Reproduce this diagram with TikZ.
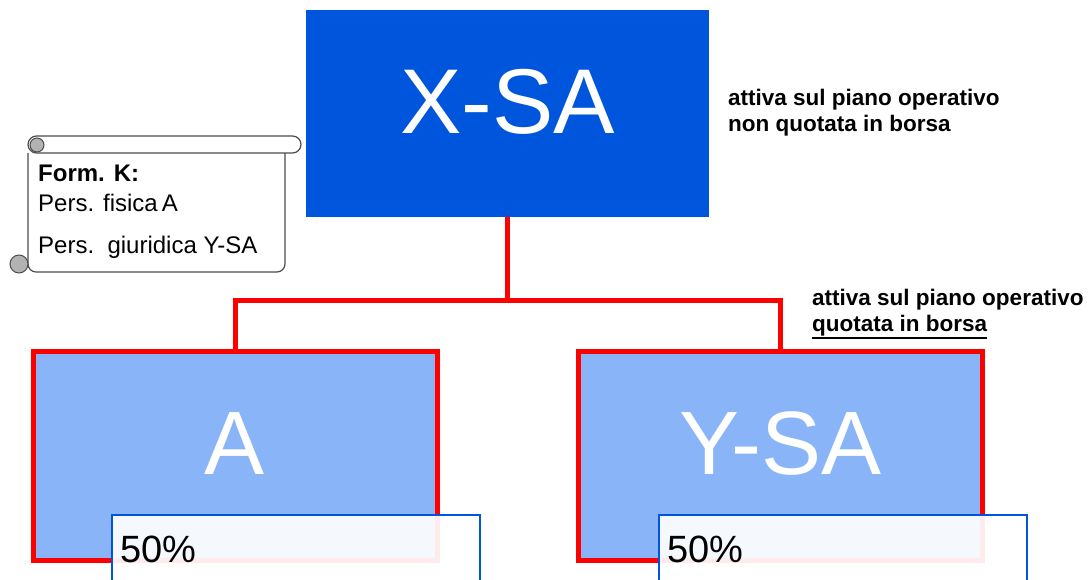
\documentclass[tikz,border=0pt]{standalone}
\usepackage{fontspec}
\setmainfont{Liberation Sans}
\newcommand{\thickul}[1]{\leavevmode\vtop{\hbox{#1}\kern1.5pt\hrule height 1.8pt}}
\begin{document}
\begin{tikzpicture}[x=1pt,y=-1pt,
  bigblue/.style={rectangle, fill=xblue, draw=none, minimum width=403pt, minimum height=207pt, text=white, font=\fontsize{92}{92}\selectfont, inner sep=0pt},
  subbox/.style={rectangle, fill=lblue, draw=xred, line width=5pt, minimum width=404pt, minimum height=209pt, text=white, font=\fontsize{90}{90}\selectfont, inner sep=0pt},
  pctbox/.style={rectangle, anchor=north west, fill=white, fill opacity=0.92, draw=xblue, line width=2pt, minimum width=368pt, minimum height=100pt, inner sep=0pt},
  pcttext/.style={anchor=base west, font=\fontsize{38}{38}\selectfont, inner sep=0pt},
  sidetext/.style={anchor=base west, align=left, font=\fontsize{22.5}{26}\selectfont\bfseries, inner sep=0pt},
  conn/.style={draw=xred, line width=5pt},
  scrollline/.style={draw=black!70, line width=1.2pt},
  curl/.style={fill=black!30, draw=black!70, line width=1pt}
]
\definecolor{xblue}{RGB}{0,85,221}
\definecolor{lblue}{RGB}{138,180,248}
\definecolor{xred}{RGB}{255,0,0}
\useasboundingbox (0,0) rectangle (1091,580);
\clip (0,0) rectangle (1091,580);

% scroll
\draw[scrollline, fill=white, rounded corners=8pt] (28,153) -- (28,272) -- (285,272) -- (285,153);
\draw[scrollline, fill=white, rounded corners=8.5pt] (28,136) rectangle (301,153);
\draw[curl] (37,145) circle (7);
\draw[curl] (19,264) circle (9);
\node[anchor=base west, font=\fontsize{24}{24}\selectfont\bfseries, inner sep=0pt] (fk) at (38,182) {Form. K:};
\node[anchor=base west, font=\fontsize{24}{24}\selectfont, inner sep=0pt] (pf) at (38,211) {Pers. fisica\,A};
\node[anchor=base west, font=\fontsize{24}{24}\selectfont, inner sep=0pt] (pg) at (38,253) {Pers.\ \ giuridica Y-SA};

% main boxes
\node[bigblue] (xsa) at (507.5,113.5) {\raisebox{25pt}{X-SA}};
\coordinate (j) at (507.5,300);
\draw[conn] (xsa.south) -- (j);
\node[subbox] (a) at (235,455.5) {\raisebox{24pt}{A}};
\node[subbox] (ysa) at (780.5,455.5) {\raisebox{24pt}{Y-SA}};
\draw[conn] (j) -| (a.north);
\draw[conn] (j) -| (ysa.north);

% percentage boxes
\node[pctbox] (pa) at (111,514) {};
\node[pcttext] (pat) at (120,562) {50\%};
\node[pctbox] (py) at (658,514) {};
\node[pcttext] (pyt) at (667,562) {50\%};

% side texts
\node[sidetext] (t1) at (728,132) {attiva sul piano operativo\\non quotata in borsa};
\node[sidetext] (t2) at (812,331) {attiva sul piano operativo\\\thickul{quotata in borsa}};
\end{tikzpicture}
\end{document}
